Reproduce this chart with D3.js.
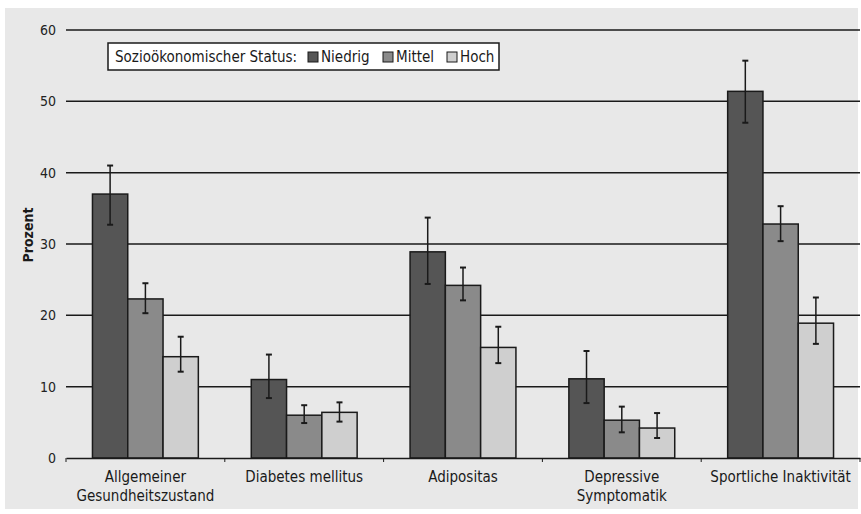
<!DOCTYPE html>
<html>
<head>
<meta charset="utf-8">
<script src="https://cdn.jsdelivr.net/npm/d3@7"></script>
<style>
  body { margin: 0; background: #fff; }
  text { font-family: "Liberation Sans Narrow", "DejaVu Sans Condensed", "Open Sans", sans-serif; }
</style>
</head>
<body>
<svg id="chart"></svg>
<script>
// data
var categories = ["Allgemeiner|Gesundheitszustand", "Diabetes mellitus", "Adipositas", "Depressive|Symptomatik", "Sportliche Inaktivität"];
var groups = ["Niedrig", "Mittel", "Hoch"];
var niedrig = [37.0, 11.0, 28.9, 11.1, 51.4];
var niedrigLow = [32.7, 8.4, 24.4, 7.7, 47.0];
var niedrigHigh = [41.0, 14.5, 33.7, 15.0, 55.7];
var mittel = [22.3, 6.0, 24.2, 5.3, 32.8];
var mittelLow = [20.3, 4.9, 22.1, 3.6, 30.4];
var mittelHigh = [24.5, 7.4, 26.7, 7.2, 35.3];
var hoch = [14.2, 6.4, 15.5, 4.2, 18.9];
var hochLow = [12.1, 5.1, 13.3, 2.8, 16.0];
var hochHigh = [17.0, 7.8, 18.4, 6.3, 22.5];
var yTicks = [0, 10, 20, 30, 40, 50, 60];

var colors = {"Niedrig": "#555555", "Mittel": "#8a8a8a", "Hoch": "#cfcfcf"};

var drawChart = function(w, h)
{
  var svg = d3.select("#chart")
              .attr("width", w)
              .attr("height", h);

  // grey panel
  svg.append("rect")
     .attr("x", 5).attr("y", 8)
     .attr("width", 853).attr("height", 501)
     .attr("fill", "#e8e8e8");

  var margins = {top: 30, bottom: 56, left: 66, right: 2};

  var xScale = d3.scaleBand()
                 .domain(categories)
                 .range([0, 794])
                 .paddingInner(0)
                 .paddingOuter(0);
  var xInner = d3.scaleBand()
                 .domain(groups)
                 .range([0, xScale.bandwidth()])
                 .paddingOuter(0.75)
                 .paddingInner(0);
  var yScale = d3.scaleLinear()
                 .domain([0, 60])
                 .range([428, 0]);

  var plot = svg.append("g")
                .attr("transform", "translate(" + margins.left + "," + margins.top + ")");

  // gridlines
  plot.selectAll(".grid")
      .data(yTicks.slice(1))
      .enter()
      .append("line")
      .attr("x1", 0).attr("x2", 794)
      .attr("y1", function(d){ return yScale(d); })
      .attr("y2", function(d){ return yScale(d); })
      .attr("stroke", "#1a1a1a")
      .attr("stroke-width", 1.5);

  // y axis labels
  var yAxis = d3.axisLeft(yScale)
                .tickValues(yTicks)
                .tickSize(0)
                .tickPadding(10);
  plot.append("g").call(yAxis)
      .call(function(g){ g.select(".domain").remove(); })
      .selectAll("text")
      .attr("font-size", 14)
      .attr("fill", "#222");

  var rows = categories.map(function(c, i){
    return [
      {cat: c, grp: "Niedrig", v: niedrig[i], lo: niedrigLow[i], hi: niedrigHigh[i]},
      {cat: c, grp: "Mittel", v: mittel[i], lo: mittelLow[i], hi: mittelHigh[i]},
      {cat: c, grp: "Hoch", v: hoch[i], lo: hochLow[i], hi: hochHigh[i]}
    ];
  });
  var flat = [].concat.apply([], rows);

  plot.selectAll(".bar")
      .data(flat)
      .enter()
      .append("rect")
      .attr("x", function(d){ return xScale(d.cat) + xInner(d.grp); })
      .attr("y", function(d){ return yScale(d.v); })
      .attr("width", xInner.bandwidth())
      .attr("height", function(d){ return yScale(0) - yScale(d.v); })
      .attr("fill", function(d){ return colors[d.grp]; })
      .attr("stroke", "#1a1a1a")
      .attr("stroke-width", 1.5);

  // error bars
  var cx = function(d){ return xScale(d.cat) + xInner(d.grp) + xInner.bandwidth() / 2; };
  var err = plot.selectAll(".err")
                .data(flat)
                .enter()
                .append("g");
  err.append("line")
     .attr("x1", cx).attr("x2", cx)
     .attr("y1", function(d){ return yScale(d.lo); })
     .attr("y2", function(d){ return yScale(d.hi); })
     .attr("stroke", "#1a1a1a").attr("stroke-width", 1.5);
  err.append("line")
     .attr("x1", function(d){ return cx(d) - 3; }).attr("x2", function(d){ return cx(d) + 3; })
     .attr("y1", function(d){ return yScale(d.hi); })
     .attr("y2", function(d){ return yScale(d.hi); })
     .attr("stroke", "#1a1a1a").attr("stroke-width", 2);
  err.append("line")
     .attr("x1", function(d){ return cx(d) - 3; }).attr("x2", function(d){ return cx(d) + 3; })
     .attr("y1", function(d){ return yScale(d.lo); })
     .attr("y2", function(d){ return yScale(d.lo); })
     .attr("stroke", "#1a1a1a").attr("stroke-width", 2);

  // x axis
  var xAxis = d3.axisBottom(xScale)
                .tickSize(0)
                .tickFormat("");
  var xg = plot.append("g")
               .attr("transform", "translate(0," + yScale(0) + ")")
               .call(xAxis);
  xg.select(".domain").attr("stroke", "#1a1a1a").attr("stroke-width", 1.5);
  xg.selectAll(".sep")
    .data(categories.concat(["end"]))
    .enter()
    .append("line")
    .attr("x1", function(d, i){ return i * xScale.bandwidth(); })
    .attr("x2", function(d, i){ return i * xScale.bandwidth(); })
    .attr("y1", 0).attr("y2", 4)
    .attr("stroke", "#1a1a1a");

  var lab = plot.selectAll(".cat")
                .data(categories)
                .enter()
                .append("text")
                .attr("x", function(d){ return xScale(d) + xScale.bandwidth() / 2; })
                .attr("y", yScale(0) + 24)
                .attr("text-anchor", "middle")
                .attr("font-size", 15)
                .attr("fill", "#1a1a1a");
  lab.selectAll("tspan")
     .data(function(d){ return d.split("|"); })
     .enter()
     .append("tspan")
     .attr("x", function(){ return d3.select(this.parentNode).attr("x"); })
     .attr("dy", function(d, i){ return i == 0 ? 0 : 19; })
     .text(function(d){ return d; });

  // y label
  svg.append("text")
     .attr("transform", "translate(33," + 235 + ") rotate(-90)")
     .attr("text-anchor", "middle")
     .attr("font-size", 14)
     .attr("font-weight", "bold")
     .attr("fill", "#1a1a1a")
     .text("Prozent");
}

var legend = function()
{
  var svg = d3.select("#chart");
  var lg = svg.append("g").attr("transform", "translate(108,43)");
  lg.append("rect")
    .attr("width", 391).attr("height", 27)
    .attr("fill", "#fff")
    .attr("stroke", "#1a1a1a")
    .attr("stroke-width", 1.5);
  lg.append("text")
    .attr("x", 7).attr("y", 19)
    .attr("font-size", 15)
    .attr("fill", "#1a1a1a")
    .text("Sozioökonomischer Status:");
  var xs = [200, 275, 339];
  var items = lg.selectAll(".item")
                .data(groups)
                .enter()
                .append("g")
                .attr("transform", function(d, i){ return "translate(" + xs[i] + ",0)"; });
  items.append("rect")
       .attr("x", 0).attr("y", 9)
       .attr("width", 10).attr("height", 10)
       .attr("fill", function(d){ return colors[d]; })
       .attr("stroke", "#1a1a1a");
  items.append("text")
       .attr("x", 13).attr("y", 19)
       .attr("font-size", 15)
       .attr("fill", "#1a1a1a")
       .text(function(d){ return d; });
}

drawChart(861, 514);
legend();
</script>
</body>
</html>
